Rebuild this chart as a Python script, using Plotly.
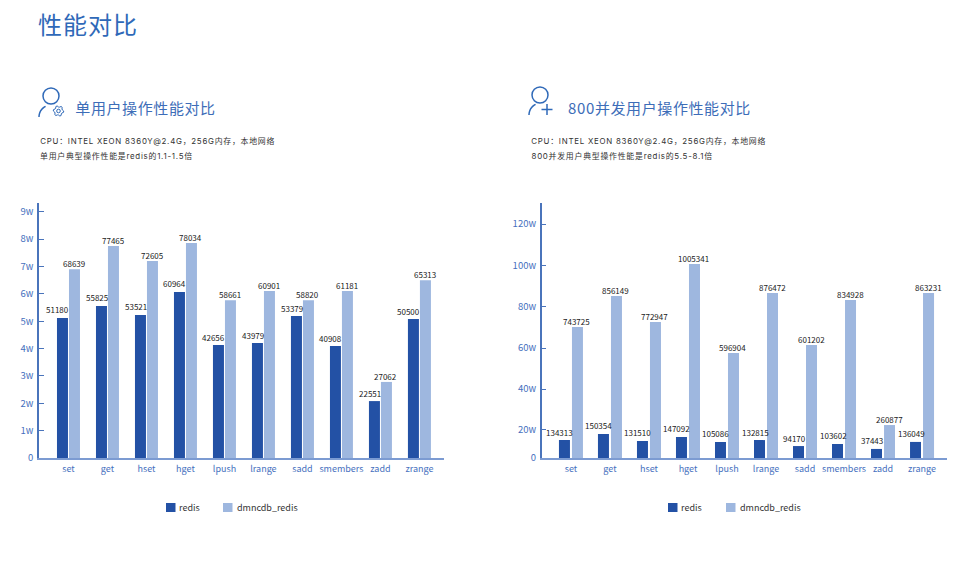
import math
import plotly.graph_objects as go

W, H = 969, 563
FONT = "Noto Sans CJK SC, Noto Sans, sans-serif"
LATIN = "Inter, Noto Sans CJK SC, sans-serif"
DARK, LIGHT = "#2351A5", "#9EB7DF"
AXIS = "#4A74BB"
TICK = "#4670BE"
HEAD = "#2F69B8"

categories = ["set", "get", "hset", "hget", "lpush", "lrange", "sadd", "smembers", "zadd", "zrange"]

# printed labels
redis_single = [51180, 55825, 53521, 60964, 42656, 43979, 53379, 40908, 22551, 50500]
dmn_single = [68639, 77465, 72605, 78034, 58661, 60901, 58820, 61181, 27062, 65313]
redis_800 = [134313, 150354, 131510, 147092, 105086, 132815, 94170, 103602, 37443, 136049]
dmn_800 = [743725, 856149, 772947, 1005341, 596904, 876472, 601202, 834928, 260877, 863231]

# bar heights as drawn, read against the axis (unit: w)
redis_single_h = [5.12, 5.56, 5.23, 6.07, 4.13, 4.20, 5.19, 4.09, 2.08, 5.08]
dmn_single_h = [6.90, 7.75, 7.20, 7.86, 5.77, 6.10, 5.77, 6.10, 2.78, 6.50]
redis_800_h = [8.7, 11.7, 8.3, 10.2, 7.8, 8.7, 5.8, 6.8, 4.4, 7.8]
dmn_800_h = [63.6, 78.6, 66.0, 94.2, 51.0, 80.1, 54.9, 76.7, 16.0, 80.1]

ticks_single = [0, 1, 2, 3, 4, 5, 6, 7, 8, 9]
ticks_single_text = ["0", "1w", "2w", "3w", "4w", "5w", "6w", "7w", "8w", "9w"]
# the reference's 0-20w interval is shorter than the others
ticks_800 = [0, 13.6, 33.5, 53.4, 73.6, 93.6, 113.6]
ticks_800_text = ["0", "20w", "40w", "60w", "80w", "100w", "120w"]


def X(p):
    return p / W


def Y(p):
    return 1 - p / H


fig = go.Figure()


def panel(xa, ya, x0, x1, yrange, redis_h, dmn_h, redis_lab, dmn_lab, tv, tt, half, xr):
    xn, yn = ("x" + xa[5:], "y" + ya[5:])
    cell = 39.0
    fig.add_bar(x=categories, y=redis_h, xaxis=xn, yaxis=yn, name="redis", marker_color=DARK,
                marker_line_width=0, width=11 / cell, offset=(-half - 11) / cell,
                showlegend=False, hoverinfo="x+name")
    fig.add_bar(x=categories, y=dmn_h, xaxis=xn, yaxis=yn, name="dmncdb_redis", marker_color=LIGHT,
                marker_line_width=0, width=11 / cell, offset=half / cell,
                showlegend=False, hoverinfo="x+name")
    fig.update_layout({
        xa: dict(domain=[X(x0), X(x1)], range=xr, type="category", categoryorder="array",
                 categoryarray=categories, anchor=yn, showline=True, linecolor="#7C9BD2",
                 linewidth=2, ticks="", showgrid=False, zeroline=False, automargin=False,
                 tickfont=dict(family=FONT, size=9, color=TICK), ticklabelstandoff=1),
        ya: dict(domain=[Y(458), Y(203)], range=yrange, anchor=xn, showline=True, linecolor=AXIS,
                 linewidth=1.5, ticks="inside", ticklen=5, tickcolor=AXIS, tickwidth=1,
                 tickmode="array", tickvals=tv, ticktext=tt, showgrid=False, zeroline=False,
                 automargin=False,
                 tickfont=dict(family=FONT, size=9.5, color=TICK), ticklabelstandoff=2),
    })
    for i, c in enumerate(categories):
        for h, lab, dx, dy in ((redis_h[i], redis_lab[i], -half - 5.5 - 4.5, 8),
                               (dmn_h[i], dmn_lab[i], half + 5.5 - 0.5, 5.5)):
            fig.add_annotation(x=c, y=h, xref=xn, yref=yn, text=str(lab), showarrow=False,
                               xshift=dx, yshift=dy, yanchor="middle", xanchor="center",
                               font=dict(family=FONT, size=8, color="#1A1A1A"))


panel("xaxis", "yaxis", 39, 444, [0, 9.32], redis_single_h, dmn_single_h, redis_single, dmn_single,
      ticks_single, ticks_single_text, 0.5, [-0.756, 9.63])
panel("xaxis2", "yaxis2", 541.7, 947, [0, 123.8], redis_800_h, dmn_800_h, redis_800, dmn_800,
      ticks_800, ticks_800_text, 1.0, [-0.75, 9.64])


def text(x, y, s, size, color, family=FONT, anchor="center"):
    fig.add_annotation(x=X(x), y=Y(y), xref="paper", yref="paper", text=s, showarrow=False,
                       xanchor=anchor, yanchor="middle",
                       font=dict(family=family, size=size, color=color))


text(87.5, 23.5, "性能对比", 24, HEAD)
text(145.5, 108, "单用户操作性能对比", 15, "#3D6DB8")
text(659.5, 108, "800并发用户操作性能对比", 15, "#3D6DB8")
text(157.5, 141, "CPU：INTEL XEON 8360Y@2.4G，256G内存，本地网络", 7.9, "#333333", LATIN)
text(116.5, 156, "单用户典型操作性能是redis的1.1-1.5倍", 7.9, "#333333", LATIN)
text(648.5, 141, "CPU：INTEL XEON 8360Y@2.4G，256G内存，本地网络", 7.9, "#333333", LATIN)
text(622.5, 156, "800并发用户典型操作性能是redis的5.5-8.1倍", 7.9, "#333333", LATIN)

shapes = []


def rect(x0, y0, x1, y1, col):
    shapes.append(dict(type="rect", xref="paper", yref="paper", x0=X(x0), x1=X(x1), y0=Y(y0), y1=Y(y1),
                       fillcolor=col, line_width=0))


def ring(cx, cy, r, w=1.5):
    shapes.append(dict(type="circle", xref="paper", yref="paper", x0=X(cx - r), x1=X(cx + r),
                       y0=Y(cy + r), y1=Y(cy - r), line=dict(color=HEAD, width=w)))


def poly(pts, w=1.5, close=False):
    p = "M" + " L".join(f"{X(a):.5f},{Y(b):.5f}" for a, b in pts) + (" Z" if close else "")
    shapes.append(dict(type="path", xref="paper", yref="paper", path=p, line=dict(color=HEAD, width=w)))


def arc(cx, cy, r, a0, a1):
    return [(cx + r * math.cos(math.radians(a0 + (a1 - a0) * k / 16)),
             cy + r * math.sin(math.radians(a0 + (a1 - a0) * k / 16))) for k in range(17)]


# left icon: person + gear
ring(51, 96, 8)
poly(arc(51, 117, 12, 180, 272)[:12])
gear = []
for k in range(24):
    gear.append((58.5 + (5.2 if k % 4 < 2 else 4.0) * math.cos(math.radians(15 * k)),
                 111 + (5.2 if k % 4 < 2 else 4.0) * math.sin(math.radians(15 * k))))
poly(gear, 1, True)
ring(58.5, 111, 1.8, 1)
# right icon: person + plus
ring(540, 95, 8)
poly(arc(541, 115, 12, 180, 272)[:12])
poly([(541.5, 109.5), (552.5, 109.5)])
poly([(547, 104), (547, 115)])

# custom legends
for sx, tx, sx2, tx2 in ((166, 189, 223, 267.5), (668, 691, 726, 770.5)):
    rect(sx, 503, sx + 9.5, 512, DARK)
    rect(sx2, 503, sx2 + 9.5, 512, LIGHT)
    text(tx, 507.5, "redis", 9, "#333333")
    text(tx2, 507.5, "dmncdb_redis", 9, "#333333")

fig.update_layout(width=W, height=H, margin=dict(l=0, r=0, t=0, b=0), paper_bgcolor="white",
                  plot_bgcolor="white", shapes=shapes, barmode="overlay", showlegend=False,
                  font=dict(family=FONT))

# the reference sets its headings with wider letter spacing than the font's default
spacing_js = """
document.body.style.margin='0';
var spacing={'24px':'1px','15px':'0.6px','7.9px':'0.75px'};
document.querySelectorAll('.annotation-text').forEach(function(t){
  var s=spacing[t.style.fontSize]; if(s){t.style.letterSpacing=s;}
});
"""
fig.write_html("out.html", config={"displayModeBar": False}, post_script=spacing_js)
